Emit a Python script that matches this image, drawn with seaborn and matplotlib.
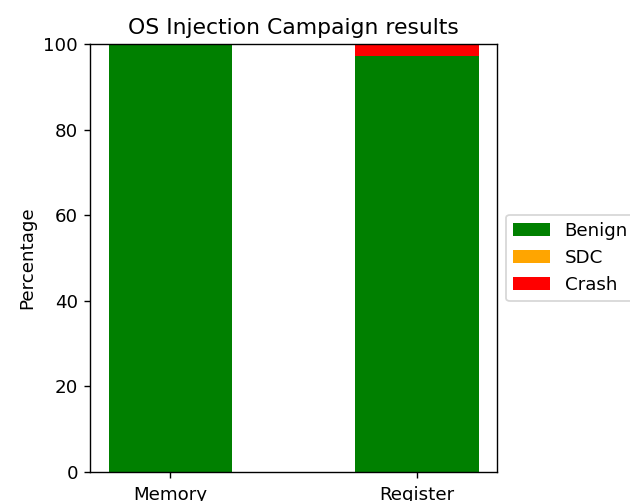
import matplotlib
matplotlib.use("Agg")
import matplotlib.pyplot as plt
import seaborn as sns
import numpy as np
import pandas as pd

categories = ["Memory", "Register"]
benign = [100.0, 97.1]
sdc = [0.0, 0.0]
crash = [0.0, 2.9]

df = pd.DataFrame({"Target": categories, "Benign": benign, "SDC": sdc, "Crash": crash})
df["top_sdc"] = df["Benign"] + df["SDC"]
df["top_crash"] = df["top_sdc"] + df["Crash"]

plt.rcParams["font.size"] = 10.5

fig = plt.figure(figsize=(5.04, 4.008), dpi=125)
ax = fig.add_axes([0.143, 0.058, 0.646, 0.854])

sns.barplot(data=df, x="Target", y="top_crash", color="red", width=0.5, ax=ax,
            label="Crash", saturation=1, linewidth=0)
sns.barplot(data=df, x="Target", y="top_sdc", color="orange", width=0.5, ax=ax,
            label="SDC", saturation=1, linewidth=0)
sns.barplot(data=df, x="Target", y="Benign", color="green", width=0.5, ax=ax,
            label="Benign", saturation=1, linewidth=0)

ax.set_xlim(-0.325, 1.325)
ax.set_ylim(0, 100)
ax.set_xlabel("")
ax.set_ylabel("Percentage")
ax.set_title("OS Injection Campaign results", fontsize=12.6)
ax.tick_params(axis="x", pad=4.5)

handles, labels = ax.get_legend_handles_labels()
order = [labels.index(l) for l in ["Benign", "SDC", "Crash"]]
ax.legend([handles[i] for i in order], [labels[i] for i in order],
          loc="center left", bbox_to_anchor=(1.0, 0.5))

fig.savefig("out.png", dpi=125)
